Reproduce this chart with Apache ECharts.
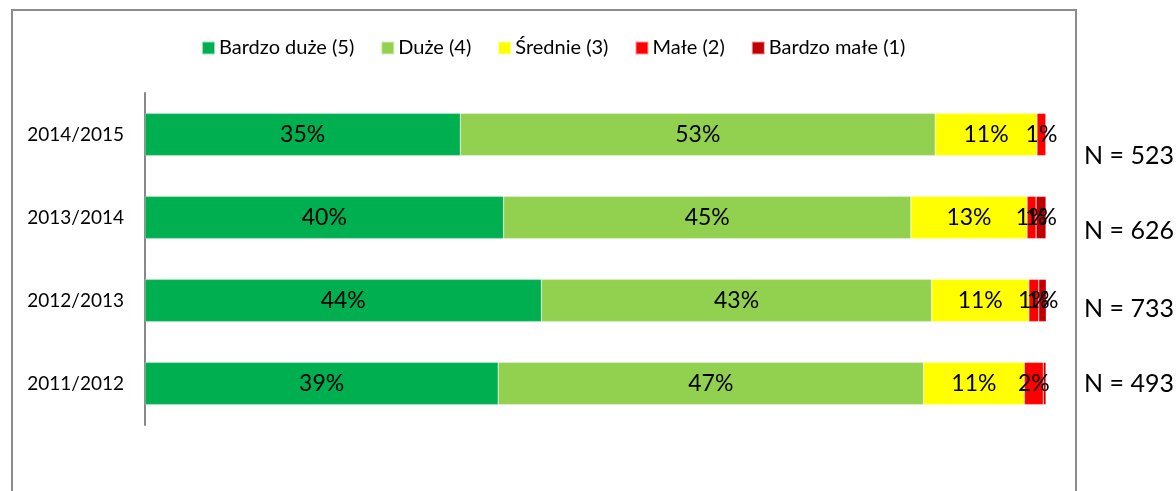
<!DOCTYPE html>
<html>
<head>
<meta charset="utf-8">
<script src="https://cdn.jsdelivr.net/npm/echarts@6/dist/echarts.min.js"></script>
<style>html,body{margin:0;padding:0;background:#fff}#c{width:1176px;height:491px}</style>
</head>
<body>
<div id="c"></div>
<script>
const categories = ['2011/2012', '2012/2013', '2013/2014', '2014/2015'];
const seriesNames = ['Bardzo duże (5)', 'Duże (4)', 'Średnie (3)', 'Małe (2)', 'Bardzo małe (1)'];
const bardzoDuze = [39.2, 44.0, 39.8, 35.0];
const duze = [47.2, 43.3, 45.2, 52.7];
const srednie = [11.2, 10.8, 12.9, 11.3];
const male = [2.1, 1.1, 1.0, 1.0];
const bardzoMale = [0.3, 0.9, 1.1, 0];
const nLabels = ['N = 493', 'N = 733', 'N = 626', 'N = 523'];

const colors = ['#00B050', '#92D050', '#FFFF00', '#FF0000', '#C00000'];
const values = [bardzoDuze, duze, srednie, male, bardzoMale];
const nOffsets = [0, 8, 13, 21];
const font = 'Lato, "Open Sans", sans-serif';

const chart = echarts.init(document.getElementById('c'), null, {renderer: 'canvas'});
const series = seriesNames.map((name, i) => ({
  name: name,
  type: 'bar',
  stack: 'total',
  barCategoryGap: '49%',
  data: values[i],
  itemStyle: {color: colors[i], borderColor: 'rgba(255,255,255,0.6)', borderWidth: 0.5},
  label: {
    show: true,
    position: 'inside',
    color: '#000',
    fontSize: 23,
    fontFamily: font,
    formatter: p => p.value >= 0.5 ? Math.round(p.value) + '%' : ''
  },
  emphasis: {disabled: true}
}));

chart.setOption({
  animation: false,
  backgroundColor: '#fff',
  legend: {
    top: 33,
    left: 196,
    itemWidth: 13,
    itemHeight: 13,
    itemGap: 26,
    icon: 'rect',
    textStyle: {fontSize: 20, fontFamily: font, color: '#000', padding: [0, 0, 0, -1]},
    data: seriesNames
  },
  grid: {left: 145, right: 130, top: 93, bottom: 66, containLabel: false},
  xAxis: {
    type: 'value', min: 0, max: 100, show: false
  },
  yAxis: {
    type: 'category',
    data: categories,
    axisLine: {show: true, lineStyle: {color: '#888', width: 2}},
    axisTick: {show: false},
    axisLabel: {fontSize: 19, fontFamily: font, color: '#000', margin: 21}
  },
  series: series
});

const texts = categories.map((c, i) => {
  const y = chart.convertToPixel({yAxisIndex: 0}, c);
  return {
    type: 'text',
    x: 1084,
    y: y + nOffsets[i],
    style: {text: nLabels[i], fontSize: 25, fontFamily: font, fill: '#000', verticalAlign: 'middle'},
    z: 10
  };
});

chart.setOption({
  graphic: [
    {type: 'rect', shape: {x: 12, y: 10, width: 1064, height: 500}, style: {fill: 'none', stroke: '#8c8c8c', lineWidth: 2}, z: -1}
  ].concat(texts)
});
</script>
</body>
</html>
